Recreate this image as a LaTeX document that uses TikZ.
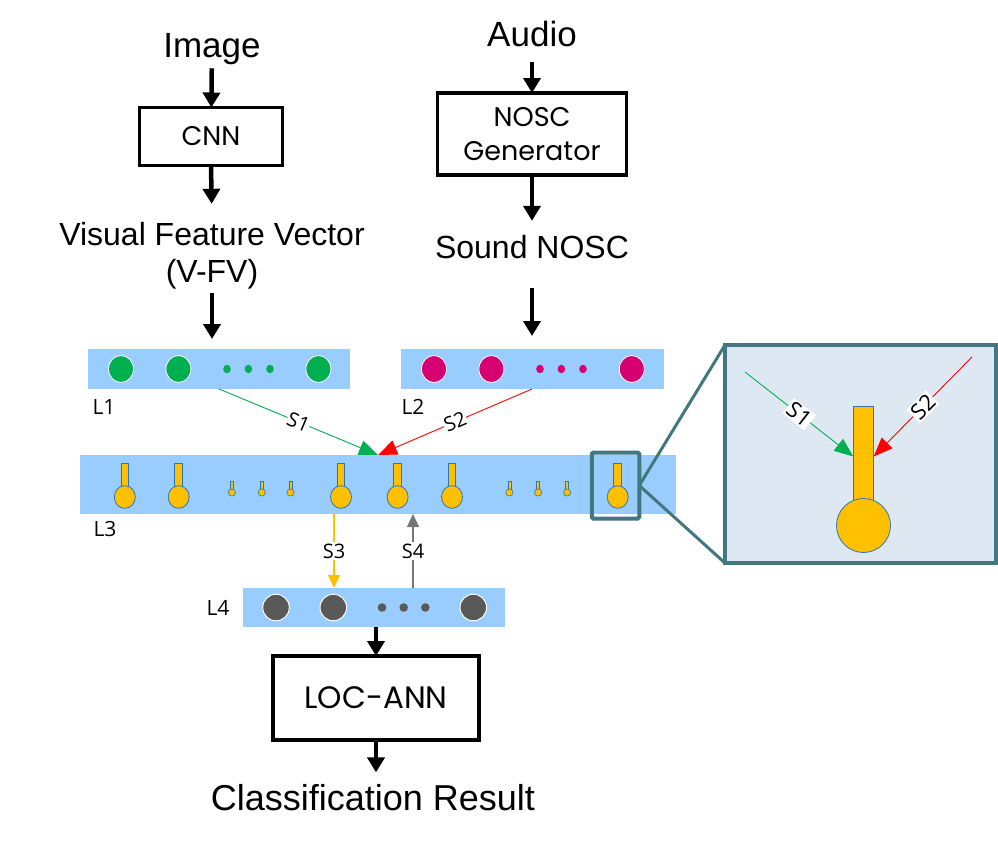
\documentclass[tikz,border=0pt]{standalone}
\usepackage{fontspec}
\setmainfont{Liberation Sans}
\newfontfamily\boxfont{Poppins}
\newfontfamily\lblfont{Open Sans}
\usetikzlibrary{arrows.meta,calc}
\definecolor{barblue}{RGB}{153,204,255}
\definecolor{thermofill}{RGB}{255,192,0}
\definecolor{thermoline}{RGB}{46,117,182}
\definecolor{neurogreen}{RGB}{0,176,80}
\definecolor{neuromag}{RGB}{214,0,114}
\definecolor{neurogray}{RGB}{89,89,89}
\definecolor{zoomteal}{RGB}{67,119,127}
\definecolor{zoomfill}{RGB}{222,232,243}
\definecolor{arrowgray}{RGB}{118,118,118}
\definecolor{arrowred}{RGB}{255,0,0}
\begin{document}
\begin{tikzpicture}[x=1pt,y=-1pt,
  bigtext/.style={inner sep=0pt, outer sep=0pt},
  procbox/.style={draw, line width=3.5pt, align=center, inner sep=0pt, outer sep=0pt,
    font=\boxfont\fontsize{27}{34}\selectfont},
  flow/.style={line width=4.5pt, -{Triangle[length=15pt,width=17pt]}},
  layer/.style={fill=barblue, inner sep=0pt, outer sep=0pt},
  lbl/.style={font=\lblfont\fontsize{21}{24}\selectfont, inner sep=0pt},
  slbl/.style={font=\lblfont\fontsize{20}{22}\selectfont, fill=white, inner sep=0.5pt, sloped},
  zlbl/.style={font=\lblfont\fontsize{22}{24}\selectfont, fill=white, inner sep=1.5pt, sloped},
  vlbl/.style={font=\lblfont\fontsize{20}{22}\selectfont, fill=white, inner sep=1.5pt},
  thermo/.style={fill=thermofill, draw=thermoline, line width=0.8pt},
  syn/.style={line width=0.9pt, -{Triangle[length=19pt,width=15pt]}},
  vsyn/.style={line width=1.2pt, -{Triangle[length=13pt,width=12pt]}},
  bigdot/.style={draw=white, line width=0.8pt},
]
\useasboundingbox (0,0) rectangle (998,843);

% ---------- top texts and boxes ----------
\node[bigtext, anchor=base, font=\fontsize{35}{40}\selectfont] (img) at (212,57) {Image};
\node[procbox, minimum width=143, minimum height=58] (cnn) at (211,136.5) {CNN};
\node[bigtext, anchor=base, font=\fontsize{32}{38}\selectfont] (vfv1) at (212,245) {Visual Feature Vector};
\node[bigtext, anchor=base, font=\fontsize{32}{38}\selectfont] (vfv2) at (212,282) {(V-FV)};

\node[bigtext, anchor=base, font=\fontsize{35}{40}\selectfont] (aud) at (532,47) {Audio};
\node[procbox, minimum width=189, minimum height=82] (nosc) at (532,134) {NOSC\\Generator};
\node[bigtext, anchor=base, font=\fontsize{32}{38}\selectfont] (snd) at (532,258) {Sound NOSC};

% ---------- layers ----------
\node[layer, minimum width=262, minimum height=40] (l1) at (219,369) {};
\node[layer, minimum width=263, minimum height=40] (l2) at (532,369) {};
\node[layer, minimum width=596, minimum height=59] (l3) at (378,484.5) {};
\node[layer, minimum width=262, minimum height=39] (l4) at (374,607.5) {};

\draw[flow, shorten <=4pt] (img) -- (cnn);
\draw[flow, shorten >=18pt] (cnn.south) -- (vfv1.north);
\draw[flow, shorten <=4pt, shorten >=10pt] (vfv2.south) -- (vfv2.south |- l1.north);
\draw[flow, shorten <=15pt] (aud.south) -- (nosc.north);
\draw[flow, shorten >=14pt] (nosc.south) -- (snd.north);
\draw[flow, shorten <=30pt, shorten >=13pt] (snd.south) -- (l2.north);

\node[lbl] (l1lab) at (104,407) {L1};
\node[lbl] (l2lab) at (413,407) {L2};
\node[lbl] (l3lab) at (105,529) {L3};
\node[lbl] (l4lab) at (218,607.5) {L4};

% L1 neurons
\foreach \x in {121,178.4,318.4}
  \draw[bigdot, fill=neurogreen] (\x,369) ellipse [x radius=12.5, y radius=13.5];
\foreach \x in {227,248.4,270}
  \fill[neurogreen] (\x,369) ellipse [x radius=3.8, y radius=4.2];
% L2 neurons
\foreach \x in {434,491.4,631.8}
  \draw[bigdot, fill=neuromag] (\x,369) ellipse [x radius=12.5, y radius=13.5];
\foreach \x in {540,561.4,583}
  \fill[neuromag] (\x,369) ellipse [x radius=3.8, y radius=4.2];
% L4 neurons
\foreach \x in {276,333.3,473.3}
  \draw[bigdot, line width=1pt, fill=neurogray] (\x,607.5) circle [radius=13.3];
\foreach \x in {382,403.7,425.3}
  \fill[neurogray] (\x,607.5) circle [radius=4.3];

% L3 thermometer neurons
\foreach \x in {124.8,178.7,341,397.6,452,617.7}{
  \draw[thermo] (\x-3.85,463) rectangle (\x+3.85,490);
  \draw[thermo] (\x,497) ellipse [x radius=10.5, y radius=11.3];
}
\foreach \x in {231.9,261.8,290.5,509.4,538.1,567.2}{
  \draw[thermo, line width=0.6pt] (\x-1.5,481) rectangle (\x+1.5,490);
  \draw[thermo, line width=0.6pt] (\x,492.5) circle [radius=3.6];
}

% synapses S1, S2
\draw[syn, neurogreen] (l1.south) -- node[slbl, text=black] {S1} (l3.north);
\draw[syn, arrowred] (l2.south) -- node[slbl, text=black] {S2} (l3.north);
% S3, S4
\draw[vsyn, thermofill] ([xshift=-44pt]l3.south) -- node[vlbl, text=black, pos=0.5] {S3} ([xshift=-40pt]l4.north);
\draw[vsyn, arrowgray] ([xshift=39pt]l4.north) -- node[vlbl, text=black, pos=0.5] {S4} ([xshift=35pt]l3.south);

% ---------- bottom ----------
\node[procbox, minimum width=206, minimum height=84, font=\boxfont\fontsize{31}{36}\selectfont] (loc) at (376,698) {LOC-ANN};
\node[bigtext, anchor=base, font=\fontsize{36}{42}\selectfont] (cls) at (373,810.5) {Classification Result};
\draw[flow] (l4.south -| loc.north) -- (loc.north);
\draw[flow, shorten >=12pt] (loc.south) -- (loc.south |- cls.north);

% ---------- zoom ----------
\node[draw=zoomteal, line width=4pt, rounded corners=1.5pt, minimum width=47.5, minimum height=66, inner sep=0pt, outer sep=0pt] (sel) at (615.5,485.5) {};
\node[draw=zoomteal, fill=zoomfill, line width=4pt, minimum width=271, minimum height=218, inner sep=0pt, outer sep=0pt] (zbox) at (860.5,454) {};
\draw[zoomteal, line width=3pt] (sel.east) -- (zbox.north west);
\draw[zoomteal, line width=3pt] (sel.east) -- (zbox.south west);

\node[thermo, minimum width=20.4, minimum height=96, inner sep=0pt, outer sep=0pt] (zstem) at (863.5,454.5) {};
\draw[thermo] (863.5,525.5) circle [radius=27];
\coordinate (z1) at (745,372);
\coordinate (z2) at (972,357);
\draw[syn, neurogreen] (z1) -- node[zlbl, text=black] {S1} ([yshift=-2pt]zstem.west);
\draw[syn, arrowred] (z2) -- node[zlbl, text=black] {S2} ([yshift=-2pt]zstem.east);
\end{tikzpicture}
\end{document}
